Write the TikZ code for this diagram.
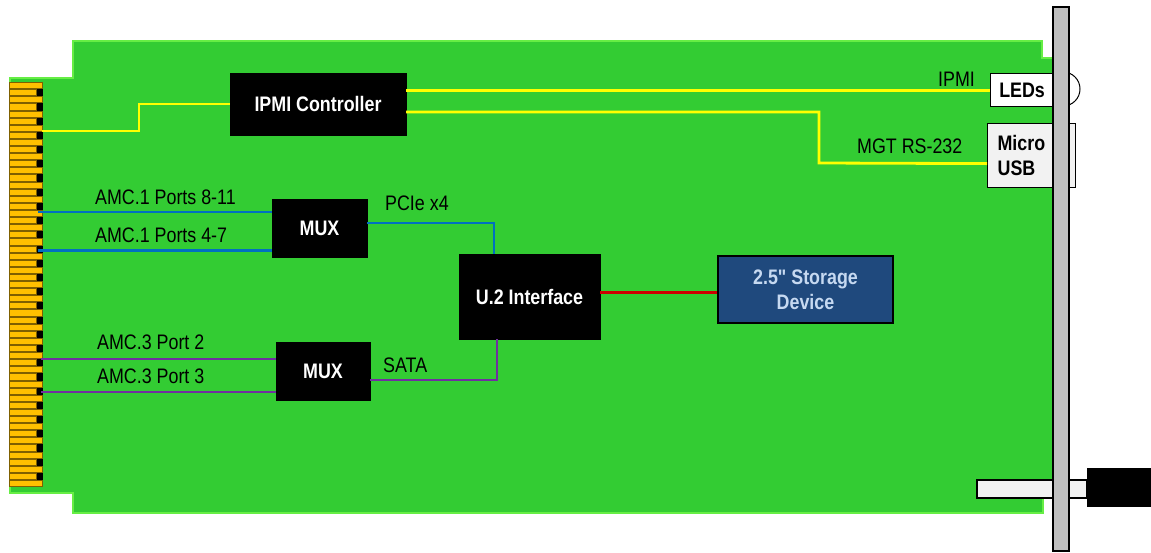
\documentclass[tikz,border=0pt]{standalone}
\usepackage{fontspec}
\setmainfont{Liberation Sans}[FakeStretch=0.85]
\newfontfamily\nolig{Liberation Sans}[FakeStretch=0.85, Ligatures=TeXOff]
\definecolor{boardgreen}{HTML}{33CC33}
\definecolor{boardedge}{HTML}{66EE44}
\definecolor{gold}{HTML}{FFC000}
\definecolor{golddark}{HTML}{7F6000}
\definecolor{ylw}{HTML}{FFFF00}
\definecolor{blu}{HTML}{0070C0}
\definecolor{purp}{HTML}{7030A0}
\definecolor{redl}{HTML}{CC0000}
\definecolor{storblue}{HTML}{1F497D}
\definecolor{stortext}{HTML}{C6D9F1}
\definecolor{lightgr}{HTML}{F2F2F2}
\definecolor{plate}{HTML}{BFBFBF}
\begin{document}
\begin{tikzpicture}[x=1pt,y=-1pt,
  blk/.style={draw=black, fill=black, text=white, font=\bfseries\fontsize{21}{25}\selectfont, inner sep=0pt},
  lbl/.style={font=\fontsize{21}{25}\selectfont, text=black, inner sep=0pt, anchor=base west},
  yl/.style={draw=ylw, line width=2.8pt},
  bl/.style={draw=blu, line width=2.3pt},
  pl/.style={draw=purp, line width=2.5pt},
  rl/.style={draw=redl, line width=2.2pt},
  line join=miter]
\useasboundingbox (0,0) rectangle (1151,552);
% board
\draw[draw=boardedge, line width=1.5pt, fill=boardgreen]
  (73,41) -- (1042,41) -- (1042,58) -- (1054,58) -- (1054,497) -- (1043,497)
  -- (1043,513) -- (73,513) -- (73,493) -- (10,493) -- (10,78) -- (73,78) -- cycle;
% edge connector
\fill[black] (9,82) rectangle (43,487);
\foreach \i in {0,...,56} {
  \ifodd\i
    \filldraw[fill=gold, draw=golddark, line width=0.8pt] (9.5,{82+\i*7.105+0.5}) rectangle (36,{82+(\i+1)*7.105-0.5});
  \else
    \filldraw[fill=gold, draw=golddark, line width=0.8pt] (9.5,{82+\i*7.105+0.5}) rectangle (42.5,{82+(\i+1)*7.105-0.5});
  \fi
}
% boxes
\node[blk, minimum width=176pt, minimum height=62pt] (ipmi) at (318,104) {IPMI Controller};
\node[blk, minimum width=95pt, minimum height=58pt] (mux1) at (319.5,228) {MUX};
\node[blk, minimum width=94pt, minimum height=58pt] (mux2) at (323,371) {MUX};
\node[blk, minimum width=141pt, minimum height=85pt] (u2) at (529.5,296.5) {U.2 Interface};
\node[draw=black, line width=1.2pt, fill=storblue, text=stortext, font=\nolig\bfseries\fontsize{21}{25}\selectfont,
  align=center, minimum width=175pt, minimum height=67pt, inner sep=0pt] (stor) at (805.5,289.5) {2.5" Storage\\Device};
% connector end points
\coordinate (cy) at (42,131);
\coordinate (ca) at (38,212);
\coordinate (cb) at (38,250.6);
\coordinate (cc) at (41,359);
\coordinate (cd) at (41,392);
% LED lamp and front items
\draw[black, fill=white, line width=1pt] (1063,89) circle (17pt);
\node[draw=black, line width=1.2pt, fill=white, font=\bfseries\fontsize{21}{25}\selectfont, inner sep=0pt,
  minimum width=63pt, minimum height=33pt, anchor=north west] (leds) at (990,73) {LEDs};
\node[draw=black, line width=1.2pt, fill=lightgr, font=\bfseries\fontsize{21}{25}\selectfont, inner ysep=0pt, inner xsep=10pt,
  text width=68pt, align=left, minimum height=64pt, anchor=north west] (usb) at (987,123) {Micro\\USB};
% lines
\draw[yl] (cy) -- (139,131) |- (ipmi.west);
\draw[yl] (ipmi.east |- leds.west) -- (leds.west);
\draw[yl] ([yshift=-8pt]ipmi.east) -- (819,112) -- (819,163) -- ([yshift=-8pt]usb.west);
\draw[bl] (ca) -- (ca -| mux1.west);
\draw[bl] (cb) -- (cb -| mux1.west);
\draw[bl] ([yshift=5pt]mux1.east) -| ([xshift=-35.5pt]u2.north);
\draw[pl] (cc) -- (cc -| mux2.west);
\draw[pl] (cd) -- (cd -| mux2.west);
\draw[pl] ([yshift=-9pt]mux2.east) -| ([xshift=-32.5pt]u2.south);
\draw[rl] ([yshift=4pt]u2.east) -- ([yshift=4pt]u2.east -| stor.west);
% labels
\node[lbl] (l1) at (95,204) {AMC.1 Ports 8-11};
\node[lbl] (l2) at (95,242) {AMC.1 Ports 4-7};
\node[lbl] (l3) at (97,349) {AMC.3 Port 2};
\node[lbl] (l4) at (97,383) {AMC.3 Port 3};
\node[lbl] (l5) at (385,210) {PCIe x4};
\node[lbl] (l6) at (383,372) {SATA};
\node[lbl] (l7) at (938,86) {IPMI};
\node[lbl] (l8) at (857,153) {MGT RS-232};
% latch and faceplate
\draw[black, fill=lightgr, line width=1.2pt] (977,480) rectangle (1087,498);
\draw[black, fill=plate, line width=1.2pt] (1053,7) rectangle (1069,551);
\fill[black] (1087,468) rectangle (1151,507);
\end{tikzpicture}
\end{document}
